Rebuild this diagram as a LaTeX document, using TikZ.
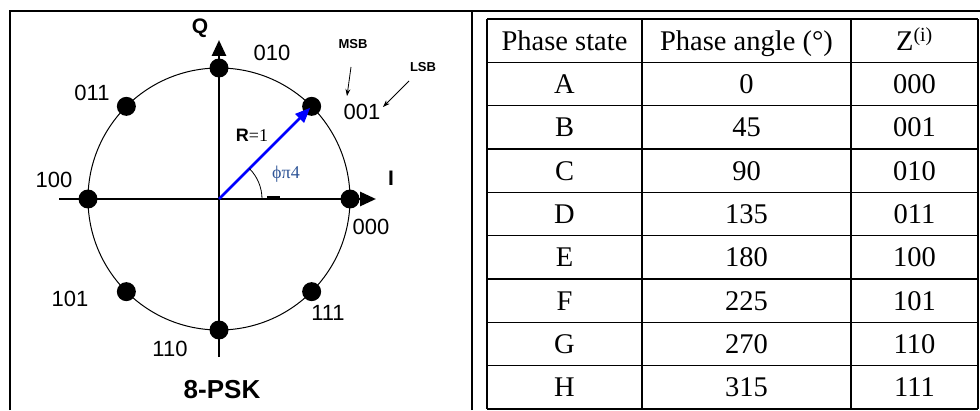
\documentclass[tikz,border=0pt]{standalone}
\usepackage{fontspec}
\setmainfont{Liberation Serif}
\setsansfont{Liberation Sans}
\usepackage{tikz}
\usetikzlibrary{arrows.meta,calc}
\definecolor{vecblue}{HTML}{0000FF}
\definecolor{angcol}{HTML}{2F5597}
\tikzset{
  axis/.style={line width=2.8pt,-{Triangle[length=16pt,width=14pt]}},
  vec/.style={draw=vecblue,line width=2.6pt,-{Triangle[length=15pt,width=12pt]}},
  ptr/.style={line width=0.8pt,-{Stealth[length=7pt,width=5pt]}},
  dot/.style={circle,fill=black,inner sep=0pt,minimum size=19pt},
  code/.style={font=\sffamily\fontsize{22}{24}\selectfont,inner sep=0pt},
  axlab/.style={font=\sffamily\bfseries\fontsize{21}{24}\selectfont,inner sep=0pt},
  bit/.style={font=\sffamily\bfseries\fontsize{13}{15}\selectfont,inner sep=0pt},
  cell/.style={font=\fontsize{28.5}{32}\selectfont,text height=19pt,text depth=0pt,inner sep=0pt},
  rule/.style={line width=1.6pt},
}
\begin{document}
\begin{tikzpicture}[x=1pt,y=1pt]
\useasboundingbox (0,0) rectangle (980,410);
\draw[rule] (10,0) -- (10,399) -- (980,399);
\draw[rule] (472,0) -- (472,399);

\coordinate (o) at (219,211);
\coordinate (xl) at (59,211);  \coordinate (xr) at (376,211);
\coordinate (yb) at (219,53);  \coordinate (yt) at (219,370);
\draw[line width=1pt] (o) circle (131);
\draw[axis] (xl) -- (xr);
\draw[axis] (yb) -- (yt);
\foreach \a in {0,45,...,315}
  \node[dot] (d\a) at ($(o)+(\a:131)$) {};
\draw[vec,shorten >=2pt] (o) -- (d45.center);
\draw[line width=0.8pt] ($(o)+(43,0)$) arc[start angle=0,end angle=45,radius=43];
\coordinate (m1) at (267,213); \coordinate (m2) at (280,213);
\draw[line width=1.6pt] (m1) -- (m2);

\node[axlab] (qlab) at (200,382) {Q};
\node[axlab] (ilab) at (391,232) {I};
\node[code] (c000) at (371,183) {000};
\node[code] (c001) at (362,298) {001};
\node[code] (c010) at (272,357) {010};
\node[code] (c011) at (92,317) {011};
\node[code] (c100) at (54,230) {100};
\node[code] (c101) at (70,111) {101};
\node[code] (c110) at (170,61) {110};
\node[code] (c111) at (328,97) {111};
\node[bit] (msb) at (353,366) {MSB};
\node[bit] (lsb) at (423,343) {LSB};
\coordinate (msbs) at (351,343); \coordinate (msbt) at (347,314);
\coordinate (lsbs) at (409,329); \coordinate (lsbt) at (383,303);
\draw[ptr] (msbs) -- (msbt);
\draw[ptr] (lsbs) -- (lsbt);
\node[inner sep=0pt] (rlab) at (252,275) {\sffamily\bfseries\fontsize{18}{20}\selectfont R\rmfamily\mdseries =1};
\node[inner sep=0pt,text=angcol] (ang) at (286,236) {\fontsize{18}{20}\selectfont ϕπ4};
\node[inner sep=0pt,font=\sffamily\bfseries\fontsize{26}{28}\selectfont] (title) at (222,20) {8-PSK};

\foreach \k in {0,...,9}
  \draw[rule] (487,{391-43.33*\k}) -- (978,{391-43.33*\k});
\foreach \x in {487,642,851,978}
  \draw[rule] (\x,391) -- (\x,1);
\node[cell] (h1) at (564.5,369.3) {Phase state};
\node[cell] (h2) at (746.5,369.3) {Phase angle (°)};
\node[cell] (h3) at (914.5,369.3) {Z\textsuperscript{(i)}};
\foreach \s/\p/\z [count=\k] in {A/0/000,B/45/001,C/90/010,D/135/011,E/180/100,F/225/101,G/270/110,H/315/111} {
  \node[cell] (s\s) at (564.5,{391-43.33*(\k+0.5)}) {\s};
  \node[cell] (p\s) at (746.5,{391-43.33*(\k+0.5)}) {\p};
  \node[cell] (z\s) at (914.5,{391-43.33*(\k+0.5)}) {\z};
}
\end{tikzpicture}
\end{document}
